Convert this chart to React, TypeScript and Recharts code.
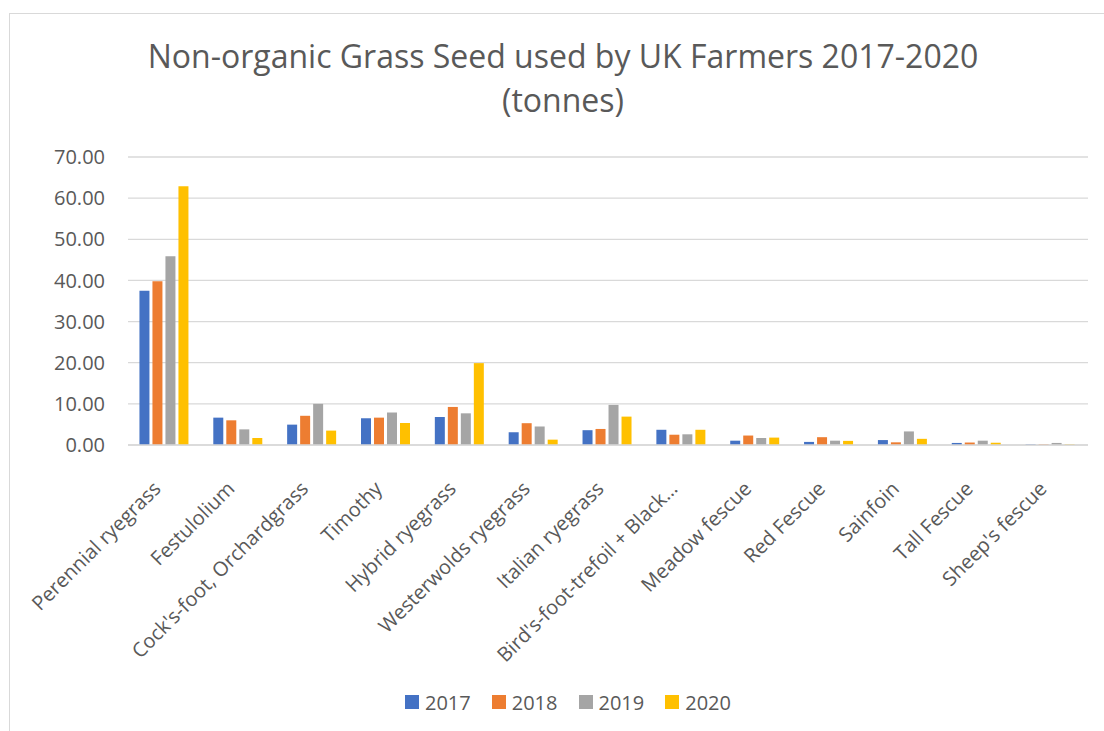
import { BarChart, Bar, XAxis, YAxis, CartesianGrid } from 'recharts';

const CATEGORIES = [
  'Perennial ryegrass',
  'Festulolium',
  "Cock's-foot, Orchardgrass",
  'Timothy',
  'Hybrid ryegrass',
  'Westerwolds ryegrass',
  'Italian ryegrass',
  "Bird's-foot-trefoil + Black…",
  'Meadow fescue',
  'Red Fescue',
  'Sainfoin',
  'Tall Fescue',
  "Sheep's fescue",
];

const Y2017 = [37.5, 6.65, 4.95, 6.5, 6.8, 3.1, 3.6, 3.7, 1.05, 0.75, 1.2, 0.5, 0.15];
const Y2018 = [39.8, 6.0, 7.1, 6.65, 9.25, 5.3, 3.9, 2.5, 2.3, 1.9, 0.65, 0.6, 0.15];
const Y2019 = [45.9, 3.8, 10.0, 7.9, 7.7, 4.5, 9.75, 2.6, 1.7, 1.05, 3.3, 1.05, 0.5];
const Y2020 = [62.9, 1.7, 3.5, 5.35, 19.9, 1.3, 6.9, 3.7, 1.8, 1.0, 1.5, 0.55, 0.15];

const Y_TICKS = [0, 10, 20, 30, 40, 50, 60, 70];

const SERIES = [
  { key: 's2017', name: '2017', color: '#4472C4', values: Y2017 },
  { key: 's2018', name: '2018', color: '#ED7D31', values: Y2018 },
  { key: 's2019', name: '2019', color: '#A5A5A5', values: Y2019 },
  { key: 's2020', name: '2020', color: '#FFC000', values: Y2020 },
];

const data = CATEGORIES.map((name, i) => {
  const row: Record<string, string | number> = { name };
  SERIES.forEach((s) => {
    row[s.key] = s.values[i];
  });
  return row;
});

const FONT = '"Open Sans", sans-serif';
const TEXT = '#595959';
const GRID = '#d9d9d9';

function CategoryTick(props: any) {
  const { x, y, payload } = props;
  const tx = x - 3;
  const ty = y + 37;
  return (
    <text
      x={tx}
      y={ty}
      transform={`rotate(-45, ${tx}, ${ty})`}
      textAnchor="end"
      fill={TEXT}
      fontSize={20}
      fontFamily={FONT}
    >
      {payload.value}
    </text>
  );
}

export default function App() {
  return (
    <div
      style={{
        position: 'absolute',
        left: 0,
        top: 0,
        width: 1104,
        height: 731,
        overflow: 'hidden',
        background: '#fff',
        fontFamily: FONT,
      }}
    >
      <div
        style={{
          position: 'absolute',
          left: 9,
          top: 13,
          width: 1300,
          height: 900,
          border: `1.5px solid ${GRID}`,
        }}
      />
      <div
        style={{
          position: 'absolute',
          left: 63,
          top: 34,
          width: 1000,
          textAlign: 'center',
          fontSize: 32,
          lineHeight: '44px',
          color: TEXT,
        }}
      >
        Non-organic Grass Seed used by UK Farmers 2017-2020
        <br />
        (tonnes)
      </div>
      <BarChart
        width={1104}
        height={731}
        data={data}
        margin={{ top: 157, right: 16, left: 0, bottom: 0 }}
        barCategoryGap="15.5%"
        barGap={3}
        style={{ position: 'absolute', left: 0, top: 0 }}
      >
        <CartesianGrid vertical={false} stroke={GRID} strokeWidth={1.3} />
        <XAxis
          dataKey="name"
          interval={0}
          height={286}
          tickLine={false}
          axisLine={{ stroke: GRID, strokeWidth: 1.5 }}
          tick={(p: any) => <CategoryTick {...p} />}
        />
        <YAxis
          width={128}
          domain={[0, 70]}
          ticks={Y_TICKS}
          interval={0}
          axisLine={false}
          tickLine={false}
          tickMargin={17}
          tickFormatter={(v: number) => v.toFixed(2)}
          tick={{ fill: TEXT, fontSize: 20, fontFamily: FONT }}
        />
        {SERIES.map((s) => (
          <Bar
            key={s.key}
            dataKey={s.key}
            name={s.name}
            fill={s.color}
            isAnimationActive={false}
          />
        ))}
      </BarChart>
      <div
        style={{
          position: 'absolute',
          left: 0,
          width: 1136,
          top: 690,
          height: 24,
          display: 'flex',
          justifyContent: 'center',
          alignItems: 'center',
          gap: 21,
          fontSize: 20,
          color: TEXT,
        }}
      >
        {SERIES.map((s) => (
          <div key={s.key} style={{ display: 'flex', alignItems: 'center', gap: 6 }}>
            <span style={{ width: 14, height: 14, background: s.color, display: 'inline-block' }} />
            <span>{s.name}</span>
          </div>
        ))}
      </div>
    </div>
  );
}
